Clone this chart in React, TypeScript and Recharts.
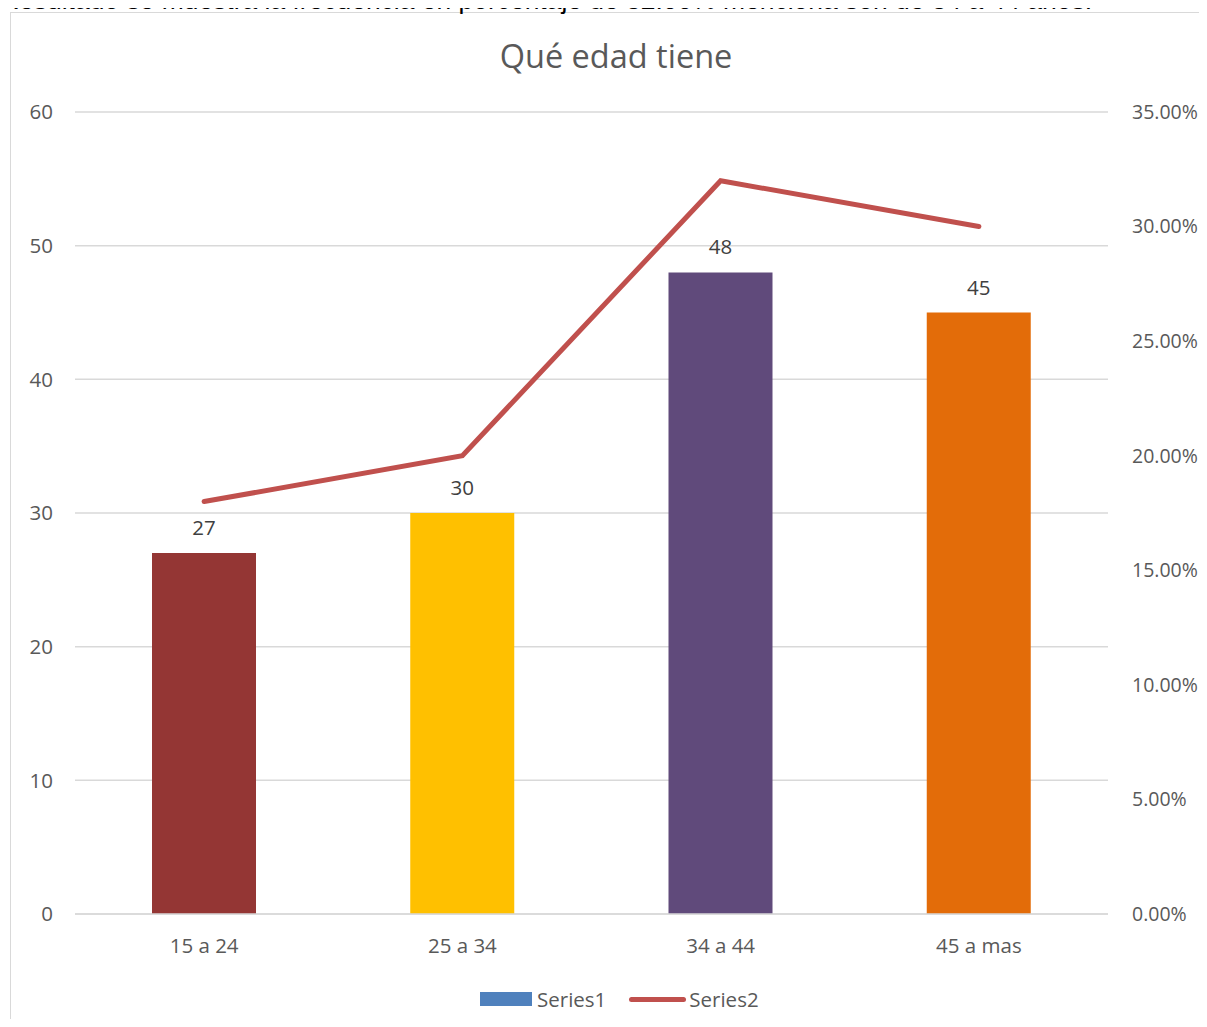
import React from "react"
import { ComposedChart, Bar, Line, XAxis, YAxis, CartesianGrid, Legend, LabelList, Cell } from "recharts"

// age groups and counts
const categories = ["15 a 24", "25 a 34", "34 a 44", "45 a mas"]
const series1 = [27, 30, 48, 45]
const series2 = [0.18, 0.2, 0.32, 0.3]
const barColors = ["#943634", "#FFC000", "#604A7B", "#E36C09"]
const leftTicks = [0, 10, 20, 30, 40, 50, 60]
const rightTicks = [0, 0.05, 0.1, 0.15, 0.2, 0.25, 0.3, 0.35]

const data = categories.map((name, i) => ({ name, series1: series1[i], series2: series2[i] }))

const FONT = "'Open Sans', 'Noto Sans', sans-serif"
const tickStyle = { fill: "#595959", fontSize: 20.5, fontFamily: FONT }

const LegendBox = () => (
  <div style={{ display: "flex", alignItems: "center", height: 20, fontFamily: FONT, fontSize: 20.5, color: "#595959" }}>
    <span style={{ display: "inline-block", width: 52, height: 14, background: "#4F81BD", marginRight: 5 }} />
    <span>Series1</span>
    <span style={{ display: "inline-block", width: 57, height: 5, borderRadius: 3, background: "#C0504D", marginLeft: 23, marginRight: 3 }} />
    <span>Series2</span>
  </div>
)

export default function App() {
  return (
    <div style={{ position: "relative", width: 1207, height: 1027, margin: -8, overflow: "hidden", background: "#fff" }}>
      <div style={{ position: "absolute", left: 10, top: 12, width: 1195, height: 1100, border: "1.5px solid #d9d9d9" }} />
      <div style={{ position: "absolute", left: 0, width: 1232, top: 33, textAlign: "center", fontFamily: FONT, fontSize: 32.5, color: "#595959" }}>
        Qué edad tiene
      </div>
      <div style={{ position: "absolute", left: 0, top: 0 }}>
        <ComposedChart width={1207} height={1027} data={data} margin={{ top: 112, right: 0, bottom: 18, left: 0 }}>
          <CartesianGrid vertical={false} stroke="#d9d9d9" strokeWidth={1.5} yAxisId="left" />
          <XAxis dataKey="name" axisLine={{ stroke: "#d9d9d9", strokeWidth: 1.5 }} tickLine={false} tickSize={0} tickMargin={24} height={75} tick={tickStyle} />
          <YAxis yAxisId="left" domain={[0, 60]} ticks={leftTicks} axisLine={false} tickLine={false} tickSize={0} tickMargin={22} width={75} tick={tickStyle} />
          <YAxis yAxisId="right" orientation="right" domain={[0, 0.35]} ticks={rightTicks} axisLine={false} tickLine={false} tickSize={0} tickMargin={24} width={99} tick={{ ...tickStyle, fontSize: 19.5, textAnchor: "start" }} tickFormatter={(v: number) => (v * 100).toFixed(2) + "%"} />
          <Legend verticalAlign="bottom" content={<LegendBox />} wrapperStyle={{ left: 480, width: 320, height: 20, bottom: 18 }} />
          <Bar yAxisId="left" dataKey="series1" name="Series1" barSize={104} fill="#4F81BD" isAnimationActive={false}>
            {data.map((d, i) => (
              <Cell key={d.name} fill={barColors[i]} />
            ))}
            <LabelList dataKey="series1" position="top" offset={18} fill="#404040" fontSize={20.5} fontFamily={FONT} />
          </Bar>
          <Line yAxisId="right" type="linear" dataKey="series2" name="Series2" stroke="#C0504D" strokeWidth={5} strokeLinecap="round" dot={false} isAnimationActive={false} />
        </ComposedChart>
      </div>
      <svg width={1207} height={30} style={{ position: "absolute", left: 0, top: 0, overflow: "hidden" }}>
        <text x={0} y={8.5} fontSize={26} fontFamily="'Liberation Sans Narrow', 'Liberation Sans', Arial, sans-serif" textLength={1092} lengthAdjust="spacingAndGlyphs" fill="#000">
          Resultado se muestra la frecuencia en porcentaje de 32.00% menciona son de 34 a 44 años.
        </text>
      </svg>
    </div>
  )
}
